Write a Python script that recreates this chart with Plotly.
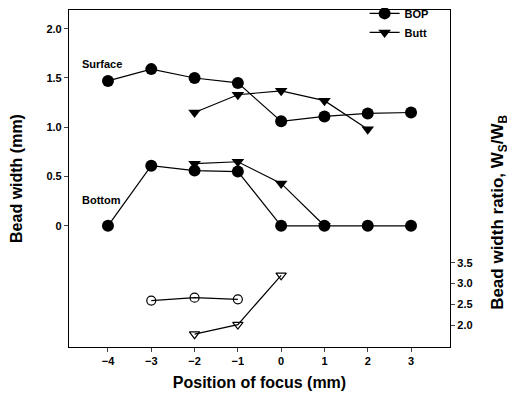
import plotly.graph_objects as go

pos_all = [-4, -3, -2, -1, 0, 1, 2, 3]
bop_surface = [1.47, 1.59, 1.50, 1.45, 1.06, 1.11, 1.14, 1.15]
bop_bottom = [0.0, 0.61, 0.56, 0.55, 0.0, 0.0, 0.0, 0.0]

pos_butt = [-2, -1, 0, 1, 2]
butt_surface = [1.15, 1.33, 1.37, 1.27, 0.98]
pos_butt_b = [-2, -1, 0, 1]
butt_bottom = [0.63, 0.65, 0.43, 0.0]

pos_ratio_bop = [-3, -2, -1]
ratio_bop = [2.59, 2.66, 2.62]
pos_ratio_butt = [-2, -1, 0]
ratio_butt = [1.78, 2.01, 3.20]

FONT = "Liberation Sans, Arial, sans-serif"
line = dict(color="black", width=1.2)

fig = go.Figure()
fig.add_trace(go.Scatter(x=pos_all, y=bop_surface, mode="lines+markers", name="BOP",
                         line=line, marker=dict(symbol="circle", size=12, color="black")))
fig.add_trace(go.Scatter(x=pos_butt, y=butt_surface, mode="lines+markers", name="Butt",
                         line=line, marker=dict(symbol="triangle-down", size=11, color="black")))
fig.add_trace(go.Scatter(x=pos_all, y=bop_bottom, mode="lines+markers", name="BOP",
                         line=line, marker=dict(symbol="circle", size=12, color="black"),
                         showlegend=False))
fig.add_trace(go.Scatter(x=pos_butt_b, y=butt_bottom, mode="lines+markers", name="Butt",
                         line=line, marker=dict(symbol="triangle-down", size=11, color="black"),
                         showlegend=False))
fig.add_trace(go.Scatter(x=pos_ratio_bop, y=ratio_bop, mode="lines+markers", yaxis="y2",
                         line=line, marker=dict(symbol="circle-open", size=9, color="black",
                                                line=dict(width=1.2)),
                         showlegend=False))
fig.add_trace(go.Scatter(x=pos_ratio_butt, y=ratio_butt, mode="lines+markers", yaxis="y2",
                         line=line, marker=dict(symbol="triangle-down-open", size=9, color="black",
                                                line=dict(width=1.2)),
                         showlegend=False))

tickfont = dict(family=FONT, size=11, color="black", weight="bold")
fig.update_layout(
    width=507, height=392,
    margin=dict(l=61, r=65, t=2, b=53, autoexpand=False),
    paper_bgcolor="white", plot_bgcolor="white",
    font=dict(family=FONT, color="black"),
    xaxis=dict(range=[-4.9, 3.9], tickvals=pos_all, ticks="outside", ticklen=4,
               showgrid=False, zeroline=False, showline=True, linecolor="black",
               linewidth=1.2, mirror=True, tickfont=tickfont, automargin=False,
               title=dict(text="Position of focus (mm)", standoff=10,
                          font=dict(family=FONT, size=16, weight="bold"))),
    yaxis=dict(range=[-1.23, 2.19], tickvals=[0, 0.5, 1.0, 1.5, 2.0],
               ticktext=["0", "0.5", "1.0", "1.5", "2.0"], ticks="outside", ticklen=4,
               showgrid=False, zeroline=False, showline=True, linecolor="black",
               linewidth=1.2, mirror=True, tickfont=tickfont, automargin=False,
               title=dict(text="Bead width (mm)", standoff=20,
                          font=dict(family=FONT, size=16, weight="bold"))),
    yaxis2=dict(range=[1.47, 9.6], overlaying="y", side="right",
                tickvals=[2.0, 2.5, 3.0, 3.5], ticktext=["2.0", "2.5", "3.0", "3.5"],
                ticks="outside", ticklen=4, showgrid=False, zeroline=False,
                showline=True, linecolor="black", linewidth=1.2, tickfont=tickfont,
                automargin=False),
    legend=dict(x=0.957, y=1.033, xanchor="right", yanchor="top",
                bgcolor="rgba(0,0,0,0)", font=dict(family=FONT, size=11, weight="bold"),
                itemwidth=30, tracegroupgap=0),
    annotations=[
        dict(x=-4.65, y=1.645, xref="x", yref="y", text="Surface", showarrow=False,
             xanchor="left", font=dict(family=FONT, size=11, weight="bold")),
        dict(x=-4.65, y=0.26, xref="x", yref="y", text="Bottom", showarrow=False,
             xanchor="left", font=dict(family=FONT, size=11, weight="bold")),
        dict(x=1.0, xshift=62, y=0.398, xref="paper", yref="paper",
             text="Bead width ratio, W<sub>S</sub>/W<sub>B</sub>", showarrow=False,
             textangle=-90, font=dict(family=FONT, size=17, weight="bold")),
    ],
)
fig.write_html("out.html")
